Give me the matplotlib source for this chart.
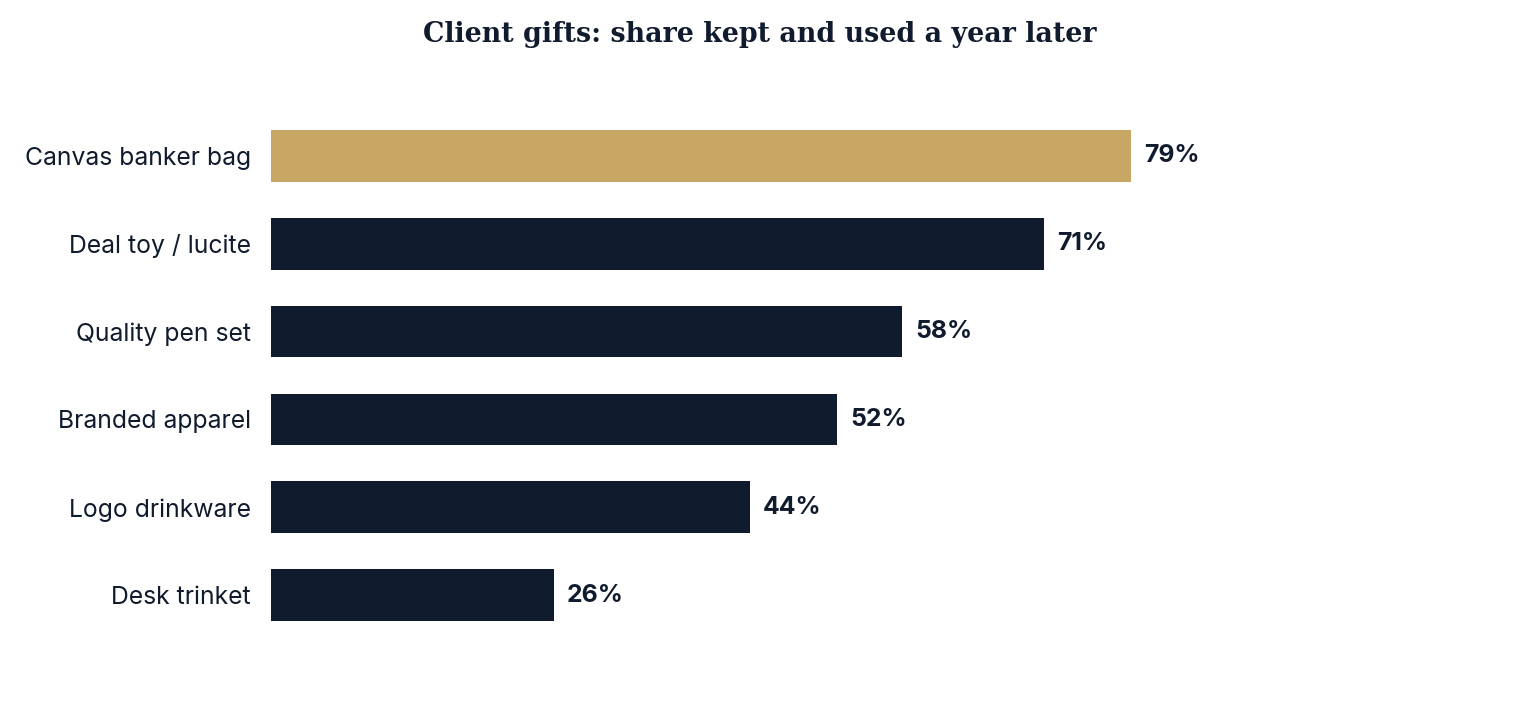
import numpy as np
import matplotlib.pyplot as plt

categories = ['Canvas banker bag', 'Deal toy / lucite', 'Quality pen set',
              'Branded apparel', 'Logo drinkware', 'Desk trinket']
kept_pct = [79, 71, 58, 52, 44, 26]

navy = '#111b2e'
gold = '#c8a764'
colors = [gold] + [navy] * (len(categories) - 1)

W, H = 1520, 708
fig = plt.figure(figsize=(W / 100, H / 100), dpi=100)
# axes placed in pixels: x from 271 to ~1360 (0..100%), rows 112..639
ax = fig.add_axes([271 / W, 1 - 639 / H, (1359.6 - 271) / W, (639 - 112) / H])

ypos = np.arange(len(categories))
ax.barh(ypos, kept_pct, height=0.59, color=colors)
ax.set_xlim(0, 100)
ax.set_ylim(len(categories) - 0.5, -0.5)

for y, v in zip(ypos, kept_pct):
    ax.text(v + 1.2, y, f'{v}%', va='center', ha='left', fontsize=17.8,
            fontweight='bold', color=navy, family='Inter')

ax.set_yticks(ypos)
ax.set_yticklabels(categories, fontsize=17.8, color=navy, family='Inter')
ax.tick_params(axis='y', length=0, pad=14.4)
ax.set_xticks([])
for s in ax.spines.values():
    s.set_visible(False)

fig.text(760 / W, 1 - 34 / H, 'Client gifts: share kept and used a year later',
         ha='center', va='center', fontsize=19.4, fontweight='bold',
         color=navy, family='DejaVu Serif')

fig.savefig('out.png', dpi=100)
